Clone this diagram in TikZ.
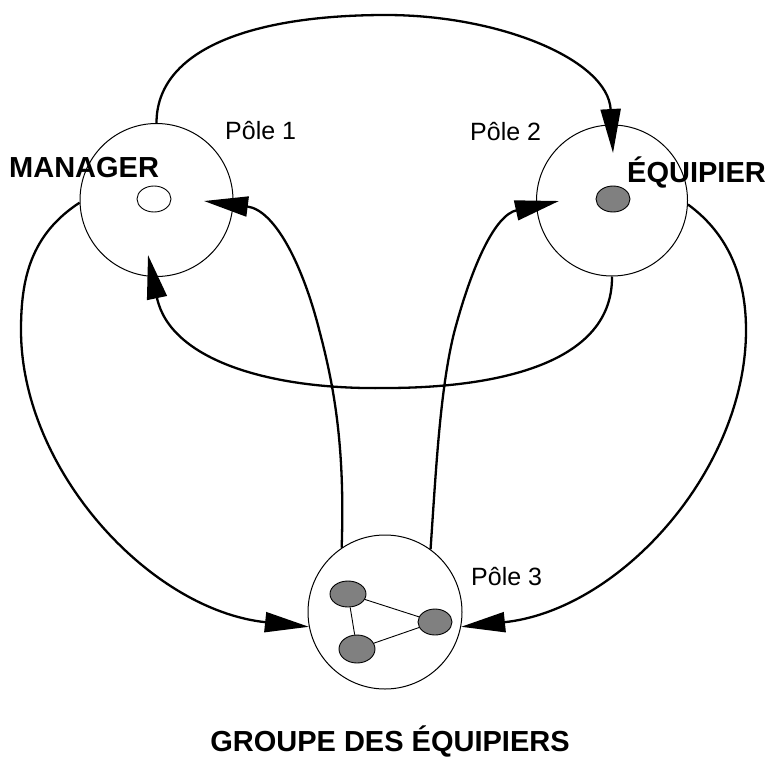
\documentclass[tikz,border=0pt]{standalone}
\usepackage{fontspec}
\setmainfont{Liberation Sans}
\usetikzlibrary{arrows.meta,calc,shapes.geometric}
\begin{document}
\begin{tikzpicture}[x=1pt,y=-1pt,
  pole/.style={circle,draw,line width=1pt,inner sep=0pt},
  dot/.style={ellipse,draw,line width=0.9pt,inner sep=0pt,minimum width=34pt,minimum height=26pt},
  conn/.style={line width=2.3pt,-{Triangle[length=44pt,width=20pt]}},
  link/.style={line width=0.9pt},
  big/.style={font=\fontsize{29}{34}\selectfont\bfseries,inner sep=0pt},
  lab/.style={font=\fontsize{25}{29}\selectfont,inner sep=0pt}]
\useasboundingbox (0,0) rectangle (768,758);
% poles
\node[pole,minimum size=153pt] (M) at (156.5,200) {};
\node[pole,minimum size=151pt] (E) at (612,200.5) {};
\node[pole,minimum size=154pt] (G) at (385,612) {};
% inner dots
\node[dot,fill=white] (m1) at (154,199) {};
\node[dot,fill=gray] (e1) at (613,199) {};
\node[dot,fill=gray,minimum width=36pt] (g1) at (348,594) {};
\node[dot,fill=gray] (g2) at (435,622) {};
\node[dot,fill=gray,minimum width=36pt,minimum height=28pt] (g3) at (357,649) {};
\draw[link] (g1) -- (g2) (g2) -- (g3) (g3) -- (g1);
% arrow tip points
\coordinate (Etop) at ($(E.center)+(1,-47.5)$);
\coordinate (Eleft) at ($(E.center)+(-53,0.5)$);
\coordinate (Mright) at ($(M.center)+(47.5,1)$);
\coordinate (Mbot) at ($(M.center)+(-8.5,55)$);
% connectors
\draw[conn] (M.90) .. controls (156.5,50) and (250,15) .. (386,15)
  .. controls (500,15) and (608,60) .. (Etop);
\draw[conn] (E.270) .. controls (613,370) and (480,388) .. (386,388)
  .. controls (270,390) and (170,360) .. (Mbot);
\draw[conn] (M.182) .. controls (30,235) and (21,280) .. (21,330)
  .. controls (21,470) and (150,610) .. (G.191);
\draw[conn] (E.357) .. controls (730,235) and (746,280) .. (746,330)
  .. controls (746,470) and (620,610) .. (G.349);
\draw[conn] (G.124) .. controls (345,450) and (335,390) .. (320,333)
  .. controls (303,265) and (275,210) .. (Mright);
\draw[conn] (G.54) .. controls (436,470) and (440,390) .. (454,333)
  .. controls (472,265) and (495,215) .. (Eleft);
% labels
\node[big,anchor=base west] (tM) at (9,177) {MANAGER};
\node[big,anchor=base west] (tE) at (627,182) {ÉQUIPIER};
\node[big,anchor=base] (tG) at (390,751) {GROUPE DES ÉQUIPIERS};
\node[lab,anchor=base west] (p1) at (225,139) {Pôle 1};
\node[lab,anchor=base west] (p2) at (470,140) {Pôle 2};
\node[lab,anchor=base west] (p3) at (471,585) {Pôle 3};
\end{tikzpicture}
\end{document}
